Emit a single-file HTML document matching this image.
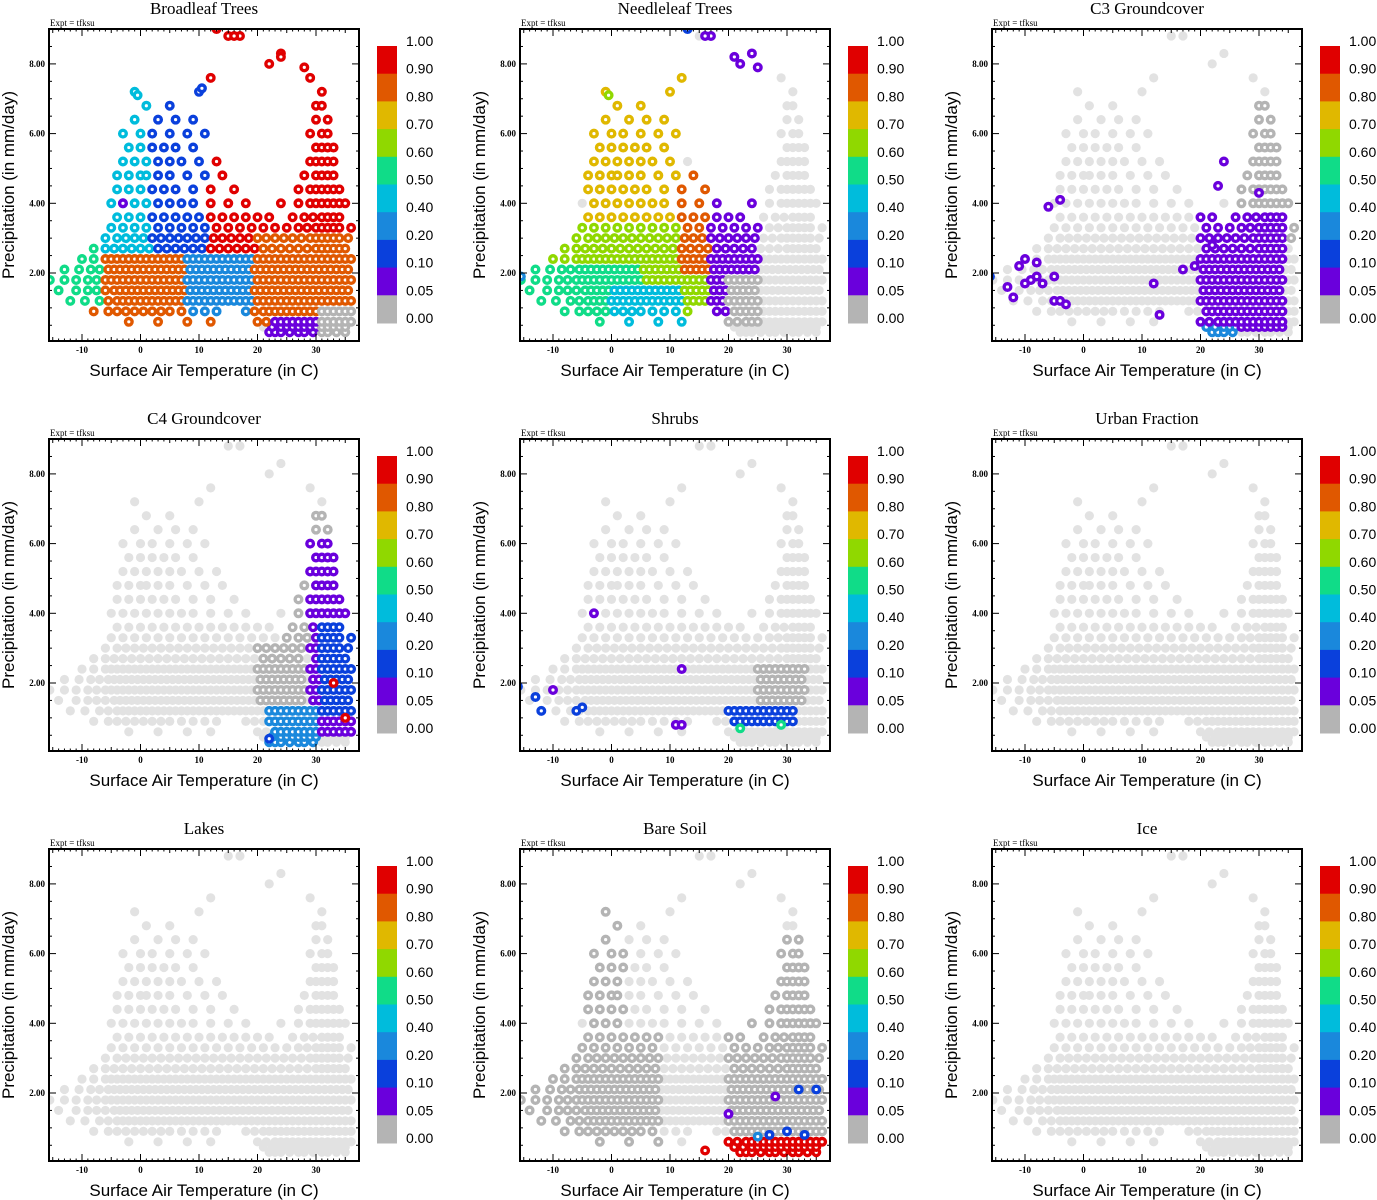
<!DOCTYPE html>
<html><head><meta charset="utf-8">
<style>
html,body{margin:0;padding:0;background:#fff;}
svg{display:block;}
.ttl{font-family:"Liberation Serif",serif;font-size:17px;}
.ax{font-family:"Liberation Sans",sans-serif;font-size:17px;}
.tk{font-family:"Liberation Serif",serif;font-size:9px;font-weight:bold;}
.ex{font-family:"Liberation Serif",serif;font-size:9px;}
.cb{font-family:"Liberation Sans",sans-serif;font-size:14px;}
</style></head>
<body>
<svg id="chart" width="1377" height="1200" viewBox="0 0 1377 1200" xmlns="http://www.w3.org/2000/svg"></svg>
<script>
// ---- data ----
const panelTitles = ["Broadleaf Trees","Needleleaf Trees","C3 Groundcover","C4 Groundcover","Shrubs","Urban Fraction","Lakes","Bare Soil","Ice"];
const xTicks = [-10,0,10,20,30];
const yTicks = [2,4,6,8];
const yTickLabels = ["2.00","4.00","6.00","8.00"];
const cbLabels = ["1.00","0.90","0.80","0.70","0.60","0.50","0.40","0.20","0.10","0.05","0.00"];
const cbBounds = [0.05,0.1,0.2,0.4,0.5,0.6,0.7,0.8,0.9];
const cbColors = ["#b4b4b4","#6a00dc","#0a40dc","#1a88dc","#00bcdc","#10dc88","#90d800","#e0b800","#e05800","#e00000"];
// base cloud: precipitation rows with temperatures
const cloudP = [0.3,0.45,0.6,0.9,1.2,1.5,1.8,2.1,2.4,2.7,3.0,3.3,3.6,4.0,4.4,4.8,5.2,5.6,6.0,6.4,6.8,7.2,7.6,8.0,8.3,8.8];
const cloudT = [
 [22,23,24,25.5,27,28,29.5,31,32,33.5,35],
 [21,22.5,24,25,26,27,28,29,30,31,32,33,34,35],
 [-2,3,8,12,20,21.5,23,24,25,26,27,28,29,30,31,32,33,34,35,36],
 [-8,-5.5,-4,-2.5,-1,0.5,2,3.5,5,7,9,11,13,18,19.5,21,22,23,24,25,26,27,28,29,30,31,32,33,34,35,36],
 [-12,-9.5,-7,-5.5,-4,-3,-2,-1,0,1,2,3,4,5,6,7,8,9,10,11,12,13,14,15,16,17,18,19,20,21,22,23,24,25,26,27,28,29,30,31,32,33,34,35,36],
 [-14,-11,-9,-7.5,-6,-4.5,-3.5,-2.5,-1.5,-0.5,0.5,1.5,2.5,3.5,4.5,5.5,6.5,7.5,8.5,9.5,10.5,11.5,12.5,13.5,14.5,15.5,16.5,17.5,18.5,19.5,20.5,21.5,22.5,23.5,24.5,25.5,26.5,27.5,28.5,29.5,30.5,31.5,32.5,33.5,34.5,35.5],
 [-15.5,-13,-11,-9,-7.5,-6,-5,-4,-3,-2,-1,0,1,2,3,4,5,6,7,8,9,10,11,12,13,14,15,16,17,18,19,20,21,22,23,24,25,26,27,28,29,30,31,32,33,34,35,36],
 [-13,-10.5,-8.5,-7,-5.5,-4.5,-3.5,-2.5,-1.5,-0.5,0.5,1.5,2.5,3.5,4.5,5.5,6.5,7.5,8.5,9.5,10.5,11.5,12.5,13.5,14.5,15.5,16.5,17.5,18.5,19.5,20.5,21.5,22.5,23.5,24.5,25.5,26.5,27.5,28.5,29.5,30.5,31.5,32.5,33.5,34.5,35.5],
 [-10,-8,-6,-5,-4,-3,-2,-1,0,1,2,3,4,5,6,7,8,9,10,11,12,13,14,15,16,17,18,19,20,21,22,23,24,25,26,27,28,29,30,31,32,33,34,35,36],
 [-8,-6,-4.5,-3,-1.5,0,1.5,3,4.5,6,7.5,9,10.5,12,13.5,15,16.5,18,19.5,21,22.5,24,25.5,27,28.5,30,31,32,33,34,35],
 [-6,-4,-2.5,-1,0.5,2,3.5,5,6.5,8,9.5,11,12.5,14,15.5,17,18.5,20,21.5,23,24.5,26,27.5,29,30,31,32,33,34,35.5],
 [-5,-3,-1,1,3,5,7,9,11,13,15,17,19,21,23,25,27,28.5,30,31,32,33,34,36],
 [-4,-2,0,2,4,6,8,10,12,14,16,18,20,22,26,28,29.5,31,32,33,34],
 [-5,-3,-1,1,3,5,7,9,12,15,18,24,27,29,30,31,32,33,34,35],
 [-4,-2,0,2,4,6,9,12,16,27,29,30,31,32,33,34],
 [-4,-2,0,1,3,5,8,11,14,28,30,31,32,33],
 [-3,-1,1,3,5,7,10,13,29,30,31,32,33],
 [-2,0,2,4,6,9,30,31,32,33],
 [-3,0,2,5,8,11,29,31,32],
 [-1,3,6,9,30,32],
 [1,5,30,31],
 [-1,10,31],
 [12,29],
 [22],
 [24],
 [15,17]
];
// per-panel region fractions: [tmin,tmax,pmin,pmax,fraction] (later overrides earlier)
const regions1 = [[-16,37,0.5,3.2,0.8],[-8,2,2.6,7.5,0.45],[2,12,2.6,7.5,0.15],[-16,-7,1,3.2,0.55],[8,19,0.8,2.4,0.3],[12,26,2.6,9,0.95],[26,37,3.2,9,0.95],[20,37,0.5,3.2,0.85],[22,32,0.2,0.7,0.08],[31,37,0.2,0.9,0]];
const regions2 = [[-16,20,0.6,3.6,0.65],[-16,5,0.6,2.2,0.55],[0,12,0.6,1.5,0.45],[-4,12,3.6,8,0.75],[12,19,2,5,0.85],[17,25,0.6,9,0.05],[20,25,0.6,1.8,0]];
const regions3 = [[26,36,3,6.8,0],[20,34,0.4,3.6,0.05],[21,26,0.2,0.5,0.3]];
const regions4 = [[20,28,1.5,3,0],[25,33,3,6.8,0],[29,36,0.5,6,0.06],[31,36,1,3.6,0.15],[22,30,0.2,1.2,0.3]];
const regions5 = [[25,33,1.4,2.6,0],[20,31,0.8,1.4,0.1]];
const regions6 = [];
const regions7 = [];
const regions8 = [[-16,8,0.6,3.6,0],[-4,2,3.6,7.2,0],[20,37,0.7,6.5,0],[20,36,0.2,0.65,0.95]];
const regions9 = [];
// explicit sparse points: [t,p,fraction]
const points1 = [[13,9,0.95],[16,8.8,0.95],[24,8.2,0.95],[28,7.9,0.95],[-0.5,7.1,0.4],[10.5,7.3,0.12],[-3,4,0.05]];
const points2 = [[13,9,0.12],[16,8.8,0.05],[21,8.2,0.05],[25,7.9,0.05],[-0.5,7.1,0.65],[-15.5,1.9,0.3]];
const points3 = [[-16,1.9,0.1],[-13,1.6,0.05],[-12,1.3,0.05],[-11,2.2,0.05],[-10,1.7,0.05],[-9,1.8,0.05],[-8,1.9,0.05],[-7,1.7,0.05],[-5,1.2,0.05],[-4,1.2,0.05],[-3,1.1,0.05],[-5,1.9,0.05],[-8,2.3,0.05],[-10,2.4,0.05],[-6,3.9,0.05],[-4,4.1,0.05],[12,1.7,0.05],[13,0.8,0.05],[17,2.1,0.05],[19,2.2,0.05],[22,2.8,0.05],[23,4.5,0.05],[30,4.3,0.05],[24,5.2,0.05]];
const points4 = [[22,0.4,0.1],[33,2,0.95],[35,1,0.9]];
const points5 = [[-3,4,0.05],[-16,1.9,0.15],[-13,1.6,0.15],[-12,1.2,0.1],[-10,1.8,0.05],[-6,1.2,0.1],[-5,1.3,0.1],[12,2.4,0.05],[11,0.8,0.05],[12,0.8,0.05],[22,0.7,0.5],[29,0.8,0.5]];
const points6 = [];
const points7 = [];
const points8 = [[16,0.35,0.95],[20,1.4,0.05],[28,1.9,0.05],[32,2.1,0.1],[35,2.1,0.1],[25,0.75,0.3],[27,0.8,0.1],[30,0.9,0.1],[33,0.8,0.15]];
const points9 = [];
const regionsAll = [regions1,regions2,regions3,regions4,regions5,regions6,regions7,regions8,regions9];
const pointsAll = [points1,points2,points3,points4,points5,points6,points7,points8,points9];

// ---- layout ----
const NS = "http://www.w3.org/2000/svg";
const svg = document.getElementById("chart");
const colDx = [0,471,943], rowDy = [0,410,820];
const box = {l:49,r:359,t:29,b:341};
const xs = t => 140.5 + t*5.85;
const ys = p => 342.7 - p*34.85;
function mk(tag, attrs, parent){ const e=document.createElementNS(NS,tag); for(const k in attrs) e.setAttribute(k,attrs[k]); parent.appendChild(e); return e; }
function colorOf(f){ let i=0; for(const b of cbBounds) if(f>=b) i++; return cbColors[i]; }

panelTitles.forEach((title, idx) => {
  const g = mk("g",{transform:`translate(${colDx[idx%3]},${rowDy[Math.floor(idx/3)]})`},svg);
  
  
  const t = mk("text",{x:204,y:14,"text-anchor":"middle",class:"ttl"},g); t.textContent = title;
  
  
  const ex = mk("text",{x:50,y:26,class:"ex"},g); ex.textContent = "Expt = tfksu";
  
  
  const cid = "clip"+idx;
  const cp = mk("clipPath",{id:cid},g); mk("rect",{x:box.l,y:box.t,width:box.r-box.l,height:box.b-box.t},cp);
  const pg = mk("g",{"clip-path":`url(#${cid})`},g);
  
  
  const regs = regionsAll[idx];
  const grey=[], col=[];
  cloudP.forEach((p,ri) => cloudT[ri].forEach(tt => {
    let f = null;
    for(const r of regs) if(tt>=r[0]&&tt<=r[1]&&p>=r[2]&&p<=r[3]) f=r[4];
    (f===null?grey:col).push([tt,p,f]);
  }));
  pointsAll[idx].forEach(q=>col.push(q));
  grey.forEach(q=>{
    const c = mk("circle",{cx:xs(q[0]),cy:ys(q[1]),r:4.6,fill:"#e2e2e2"},pg);
    
    
  });
  col.forEach(q=>{
    const c = mk("circle",{cx:xs(q[0]),cy:ys(q[1]),r:3.3,fill:"#fff",stroke:colorOf(q[2]),"stroke-width":3.4},pg);
    
    
  });
  const fr = mk("rect",{x:box.l,y:box.t,width:box.r-box.l,height:box.b-box.t,fill:"none",stroke:"#000","stroke-width":2},g);
  
  
  for(let v=-15; v<=35; v++){
    const x=xs(v); const len = v%10===0?7:(v%5===0?4:2.5);
    mk("line",{x1:x,x2:x,y1:box.b,y2:box.b-len,stroke:"#000","stroke-width":1},g);
    mk("line",{x1:x,x2:x,y1:box.t,y2:box.t+len,stroke:"#000","stroke-width":1},g);
  }
  xTicks.forEach(v=>{
    const tx = mk("text",{x:xs(v),y:box.b+12,"text-anchor":"middle",class:"tk"},g); tx.textContent=v;
    
    
  });
  for(let v=0.5; v<=9; v+=0.5){
    const y=ys(v); const len = (v%2===0)?7:3;
    mk("line",{x1:box.l,x2:box.l+len,y1:y,y2:y,stroke:"#000","stroke-width":1},g);
    mk("line",{x1:box.r,x2:box.r-len,y1:y,y2:y,stroke:"#000","stroke-width":1},g);
  }
  yTicks.forEach((v,i)=>{
    const ty = mk("text",{x:45,y:ys(v)+3,"text-anchor":"end",class:"tk"},g); ty.textContent=yTickLabels[i];
    
    
  });
  const xl = mk("text",{x:204,y:376,"text-anchor":"middle",class:"ax"},g); xl.textContent="Surface Air Temperature (in C)";
  
  
  const yl = mk("text",{x:0,y:0,"text-anchor":"middle",class:"ax",transform:"translate(14,185) rotate(-90)"},g); yl.textContent="Precipitation (in mm/day)";
  
  
  const cb = mk("g",{},g);
  
  
  const top=46, h=27.7;
  for(let i=0;i<10;i++){
    const rc = mk("rect",{x:377,y:top+i*h,width:20,height:h+0.5,fill:cbColors[9-i]},cb);
    
    
  }
  cbLabels.forEach((s,i)=>{
    const lt = mk("text",{x:406,y:top+i*h,class:"cb"},cb); lt.textContent=s;
    
    
  });
});
</script>
</body></html>
